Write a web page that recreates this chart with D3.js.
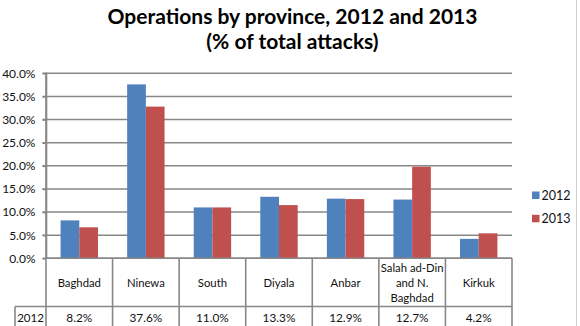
<!DOCTYPE html>
<html><head><meta charset="utf-8">
<script src="https://cdn.jsdelivr.net/npm/d3@7"></script>
<style>
html,body{margin:0;padding:0;background:#fff;}
svg{display:block;font-family:Lato,"Open Sans",sans-serif;}
</style></head>
<body><svg id="c" width="580" height="326"></svg>
<script>
const categories = ["Baghdad","Ninewa","South","Diyala","Anbar","Salah ad-Din\nand N.\nBaghdad","Kirkuk"];
const series = ["2012","2013"];
const values2012 = [8.2,37.6,11.0,13.3,12.9,12.7,4.2];
const values2013 = [6.7,32.8,11.0,11.5,12.8,19.8,5.4];
const yTicks = [0,5,10,15,20,25,30,35,40];
const tableRow2012 = ["8.2%","37.6%","11.0%","13.3%","12.9%","12.7%","4.2%"];
const colors = ["#4f81bd","#c0504d"];

const svg = d3.select("#c");
const mLeft = 46, mRight = 512, mTop = 73.3, mBottom = 258.3;
const x = d3.scaleBand().domain(d3.range(categories.length)).range([mLeft,mRight]).padding(0);
const xs = d3.scaleBand().domain(series).range([0,x.bandwidth()]).paddingInner(0).paddingOuter(0.78);
const y = d3.scaleLinear().domain([0,40]).range([mBottom,mTop]);

// right frame line
svg.append("line").attr("x1",576.5).attr("x2",576.5).attr("y1",0).attr("y2",326).attr("stroke","#d0d0d0").attr("stroke-width",1);

// title
const t = svg.append("text").attr("text-anchor","middle").attr("font-weight","bold").attr("font-size",21).attr("fill","#000");
t.append("tspan").attr("x",292.5).attr("y",24).text("Operations by province, 2012 and 2013");
t.append("tspan").attr("x",292.5).attr("y",49).text("(% of total attacks)");

// gridlines
svg.append("g").selectAll("line").data(yTicks).join("line")
  .attr("x1",mLeft-3.5).attr("x2",mRight).attr("y1",d=>y(d)).attr("y2",d=>y(d))
  .attr("stroke","#878787").attr("stroke-width",1.6);

// y axis labels
const ax = svg.append("g").attr("transform",`translate(${mLeft},0)`)
  .call(d3.axisLeft(y).tickValues(yTicks).tickFormat(d=>d.toFixed(1)+"%").tickSize(3.5).tickSizeOuter(0).tickPadding(7));
ax.select(".domain").attr("stroke","#878787").attr("stroke-width",1.6);
ax.selectAll(".tick line").attr("stroke","#878787").attr("stroke-width",1.6);
ax.selectAll("text").attr("font-size",12).attr("fill","#111").attr("font-family","Lato, sans-serif");

// bars
const data = [values2012, values2013];
series.forEach((s,si)=>{
  svg.append("g").selectAll("rect").data(data[si]).join("rect")
    .attr("x",(d,i)=>x(i)+xs(s)).attr("width",xs.bandwidth())
    .attr("y",d=>y(d)).attr("height",d=>y(0)-y(d))
    .attr("fill",colors[si]);
});

// y axis line on top
svg.append("line").attr("x1",mLeft).attr("x2",mLeft).attr("y1",mTop-0.8).attr("y2",mBottom).attr("stroke","#878787").attr("stroke-width",1.6);

// data table
const rowTop = mBottom, rowMid = 306.5, rowBot = 340;
const tg = svg.append("g");
const lineStyle = sel=>sel.attr("stroke","#878787").attr("stroke-width",1.6);
tg.append("line").attr("x1",mLeft).attr("x2",mRight).attr("y1",rowTop).attr("y2",rowTop).call(lineStyle);
tg.append("line").attr("x1",15).attr("x2",mRight).attr("y1",rowMid).attr("y2",rowMid).call(lineStyle);
tg.append("line").attr("x1",15).attr("x2",15).attr("y1",rowMid).attr("y2",rowBot).call(lineStyle);
tg.selectAll("line.v").data(d3.range(categories.length+1)).join("line").attr("class","v")
  .attr("x1",i=>i<categories.length?x(i):mRight).attr("x2",i=>i<categories.length?x(i):mRight)
  .attr("y1",rowTop).attr("y2",rowBot).call(lineStyle);

// header labels
categories.forEach((c,i)=>{
  const lines = c.split("\n");
  const cx = x(i)+x.bandwidth()/2;
  const lh = 15;
  const mid = (rowTop+rowMid)/2;
  const txt = tg.append("text").attr("text-anchor","middle").attr("font-size",11.3).attr("fill","#111");
  lines.forEach((l,k)=>{
    txt.append("tspan").attr("x",cx).attr("y",mid + (k-(lines.length-1)/2)*lh + 4.5).text(l);
  });
});
// 2012 row
tg.append("text").attr("x",(15+mLeft)/2).attr("y",322).attr("text-anchor","middle").attr("font-size",11.5).attr("fill","#111").text(series[0]);
tableRow2012.forEach((v,i)=>{
  tg.append("text").attr("x",x(i)+x.bandwidth()/2).attr("y",322).attr("text-anchor","middle").attr("font-size",11.8).attr("fill","#111").text(v);
});

// legend
const lg = svg.append("g");
series.forEach((s,si)=>{
  const yy = 191.5 + si*23.3;
  lg.append("rect").attr("x",532).attr("y",yy).attr("width",7.5).attr("height",7.5).attr("fill",colors[si]);
  lg.append("text").attr("x",541.5).attr("y",yy+8).attr("font-size",12.5).attr("fill","#111").text(s);
});
</script></body></html>
